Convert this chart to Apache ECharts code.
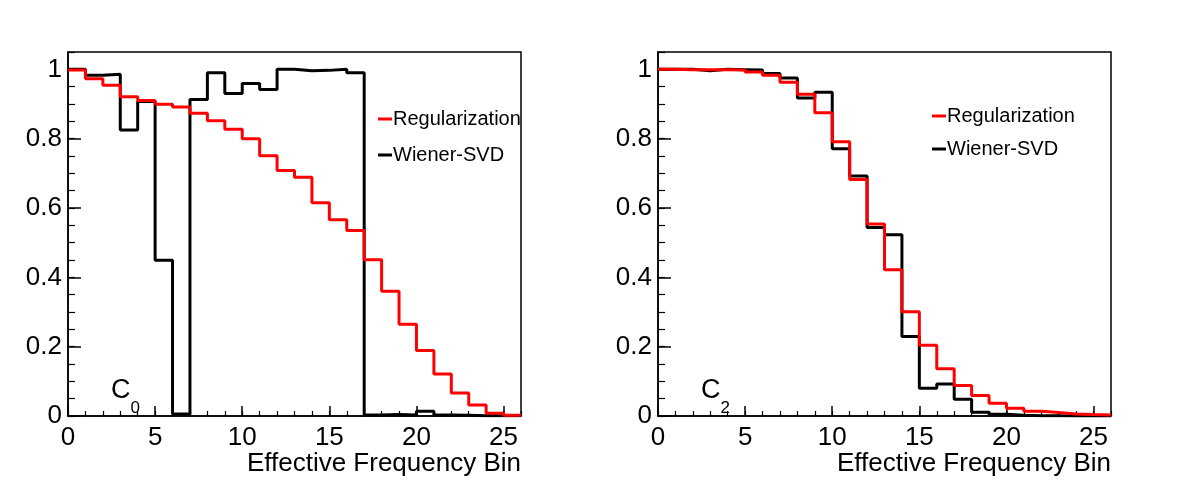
<!DOCTYPE html>
<html>
<head>
<meta charset="utf-8">
<script src="https://cdn.jsdelivr.net/npm/echarts@6/dist/echarts.min.js"></script>
<style>
  html, body { margin: 0; padding: 0; background: #fff; }
  #chart { width: 1182px; height: 486px; }
</style>
</head>
<body>
<div id="chart"></div>
<script>
// bin edges 0..26, one value per bin
const binEdges = [0,1,2,3,4,5,6,7,8,9,10,11,12,13,14,15,16,17,18,19,20,21,22,23,24,25,26];

// left panel (C0)
const regC0 = [0.998,0.973,0.954,0.921,0.910,0.899,0.891,0.873,0.852,0.827,0.800,0.751,0.708,
               0.689,0.615,0.566,0.535,0.451,0.360,0.265,0.189,0.121,0.066,0.032,0.008,0.002];
const wienerC0 = [1.000,0.983,0.986,0.825,0.907,0.449,0.006,0.913,0.990,0.930,0.959,0.942,1.000,
                  0.996,0.997,1.000,0.990,0.003,0.004,0.003,0.014,0.003,0.002,0.001,0.001,0.001];

// right panel (C2)
const regC2 = [1.000,0.999,0.999,0.999,0.998,0.992,0.983,0.963,0.928,0.875,0.791,0.682,0.554,
               0.422,0.301,0.204,0.136,0.088,0.059,0.037,0.022,0.014,0.010,0.006,0.004,0.003];
const wienerC2 = [1.000,1.000,0.996,1.000,0.999,0.998,0.988,0.975,0.917,0.934,0.771,0.692,0.544,
                  0.523,0.229,0.080,0.092,0.048,0.011,0.005,0.002,0.001,0.001,0.000,0.000,0.000];

const yTicks = ['0','0.2','0.4','0.6','0.8','1'];
const seriesNames = ['Regularization','Wiener-SVD'];
const xTitle = 'Effective Frequency Bin';

const FONT = 'Liberation Sans, Arial, Helvetica, sans-serif';

// histogram as step line: value at each lower edge, plus last edge
function histData(vals) {
  let d = [];
  for (let i = 0; i < vals.length; i++) d.push([binEdges[i], vals[i]]);
  d.push([binEdges[vals.length], vals[vals.length - 1]]);
  return d;
}

function mainX(gi) {
  return {
    type: 'value', gridIndex: gi, min: 0, max: 26, interval: 5, position: 'bottom',
    name: xTitle, nameLocation: 'end', nameGap: 0,
    nameTextStyle: { color: '#000', fontSize: 26, fontFamily: FONT, align: 'right', verticalAlign: 'top', padding: [35, 0, 0, 0] },
    axisLine: { onZero: false, lineStyle: { color: '#000', width: 1.5 } },
    axisTick: { inside: true, length: 10, lineStyle: { color: '#000', width: 1.5 } },
    axisLabel: { color: '#000', fontSize: 26, fontFamily: FONT, margin: 9, showMaxLabel: false },
    splitLine: { show: false }
  };
}
function minorX(gi) {
  return {
    type: 'value', gridIndex: gi, min: 0, max: 26, interval: 1, position: 'bottom', offset: 0,
    axisLine: { show: false },
    axisTick: { inside: true, length: 5, lineStyle: { color: '#000', width: 1.2 } },
    axisLabel: { show: false }, splitLine: { show: false }
  };
}
function mainY(gi) {
  return {
    type: 'value', gridIndex: gi, min: 0, max: 1.05, interval: 0.2, position: 'left',
    axisLine: { onZero: false, lineStyle: { color: '#000', width: 1.5 } },
    axisTick: { inside: true, length: 13, lineStyle: { color: '#000', width: 1.5 } },
    axisLabel: {
      color: '#000', fontSize: 26, fontFamily: FONT, margin: 6, showMaxLabel: false,
      formatter: function (v) { return yTicks[Math.round(v / 0.2)]; }
    },
    splitLine: { show: false }
  };
}
function minorY(gi) {
  return {
    type: 'value', gridIndex: gi, min: 0, max: 1.05, interval: 0.05, position: 'left', offset: 0,
    axisLine: { show: false },
    axisTick: { inside: true, length: 7, lineStyle: { color: '#000', width: 1.2 } },
    axisLabel: { show: false }, splitLine: { show: false }
  };
}

function hist(name, vals, color, xi, yi) {
  return {
    name: name, type: 'line', step: 'end', xAxisIndex: xi, yAxisIndex: yi,
    data: histData(vals), showSymbol: false, symbol: 'none', animation: false,
    lineStyle: { color: color, width: 3 }, itemStyle: { color: color }
  };
}

function legend(left, top, gap) {
  return {
    data: seriesNames, orient: 'vertical', left: left, top: top, itemGap: gap,
    icon: 'rect', itemWidth: 14, itemHeight: 3,
    textStyle: { color: '#000', fontSize: 20, fontFamily: FONT, padding: [0, 0, 0, -4] }
  };
}

function label(sub, left) {
  return {
    text: '{c|C}{s|' + sub + '}', left: left, top: 359,
    textStyle: {
      fontWeight: 'normal',
      rich: {
        c: { fontSize: 27, fontFamily: FONT, fontWeight: 'normal', color: '#000' },
        s: { fontSize: 17, fontFamily: FONT, fontWeight: 'normal', color: '#000', padding: [36, 0, 0, 0] }
      }
    }
  };
}

let myChart = echarts.init(document.getElementById('chart'));
myChart.setOption({
  backgroundColor: '#fff',
  animation: false,
  title: [label('0', 106), label('2', 696)],
  legend: [legend(373, 104, 16), legend(927, 101, 13)],
  grid: [
    { left: 68, right: 661, top: 52, bottom: 70, show: true, borderColor: '#000', borderWidth: 1.5 },
    { left: 658, right: 71, top: 52, bottom: 70, show: true, borderColor: '#000', borderWidth: 1.5 }
  ],
  xAxis: [mainX(0), minorX(0), mainX(1), minorX(1)],
  yAxis: [mainY(0), minorY(0), mainY(1), minorY(1)],
  series: [
    hist('Wiener-SVD', wienerC0, '#000', 0, 0),
    hist('Regularization', regC0, '#ff0000', 0, 0),
    hist('Wiener-SVD', wienerC2, '#000', 2, 2),
    hist('Regularization', regC2, '#ff0000', 2, 2)
  ]
});
</script>
</body>
</html>
